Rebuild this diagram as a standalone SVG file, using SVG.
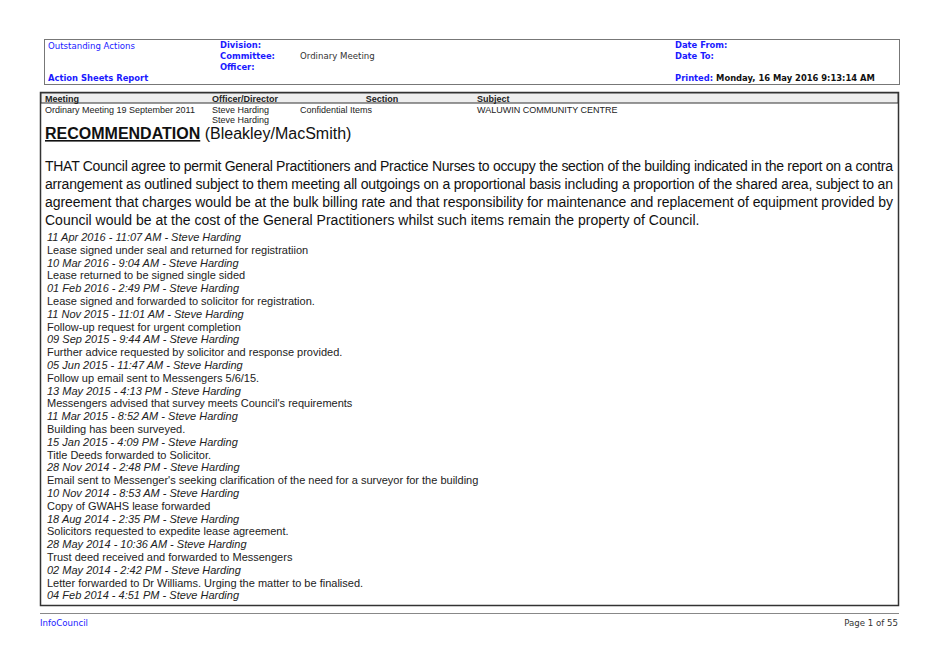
<svg xmlns="http://www.w3.org/2000/svg" width="939" height="664" viewBox="0 0 939 664">
<style>
text{font-family:"Liberation Sans",Arial,sans-serif;fill:#222}
.hb{font-family:"DejaVu Sans",Tahoma,sans-serif;font-weight:bold;font-size:8.4px;fill:#1a1aff}
.hn{font-family:"DejaVu Sans",Tahoma,sans-serif;font-size:8.6px;fill:#1a1aff}
.s{font-size:9px}
.b{font-weight:bold}
.p{font-size:14px;fill:#111}
.l{font-size:11px}
.i{font-style:italic}
</style>
<rect width="939" height="664" fill="#fff"/>
<g id="header">
<rect x="44.5" y="39.5" width="855" height="45" fill="none" stroke="#777" stroke-width="1"/>
<text class="hn" x="48" y="49">Outstanding Actions</text>
<text class="hb" x="48" y="81">Action Sheets Report</text>
<text class="hb" x="220" y="48">Division:</text>
<text class="hb" x="220" y="59">Committee:</text>
<text class="hb" x="220" y="70">Officer:</text>
<text x="300" y="59" style="font-family:'DejaVu Sans',Tahoma,sans-serif;font-size:8.6px;fill:#333">Ordinary Meeting</text>
<text class="hb" x="675" y="48">Date From:</text>
<text class="hb" x="675" y="59">Date To:</text>
<text class="hb" x="675" y="81">Printed: <tspan fill="#111">Monday, 16 May 2016   9:13:14 AM</tspan></text>
</g>
<g id="table">
<rect x="40.5" y="92.5" width="858" height="513" fill="none" stroke="#333" stroke-width="1.5"/>
<rect x="41" y="93" width="857" height="10" fill="#eee" stroke="#333" stroke-width="1"/>
<text class="s b" x="45" y="101.5">Meeting</text>
<text class="s b" x="212" y="101.5">Officer/Director</text>
<text class="s b" x="382" y="101.5" text-anchor="middle">Section</text>
<text class="s b" x="477" y="101.5">Subject</text>
<text class="s" x="45" y="113">Ordinary Meeting 19 September 2011</text>
<text class="s" x="212" y="113">Steve Harding</text>
<text class="s" x="212" y="123">Steve Harding</text>
<text class="s" x="300" y="113">Confidential Items</text>
<text class="s" x="477" y="113">WALUWIN COMMUNITY CENTRE</text>
<text x="45" y="139" style="font-size:16px;fill:#111"><tspan font-weight="bold" text-decoration="underline">RECOMMENDATION</tspan> (Bleakley/MacSmith)</text>
<text class="p" x="45" y="171" textLength="848" lengthAdjust="spacing">THAT Council agree to permit General Practitioners and Practice Nurses to occupy the section of the building indicated in the report on a contra</text>
<text class="p" x="45" y="189" textLength="848" lengthAdjust="spacing">arrangement as outlined subject to them meeting all outgoings on a proportional basis including a proportion of the shared area, subject to an</text>
<text class="p" x="45" y="207" textLength="848" lengthAdjust="spacing">agreement that charges would be at the bulk billing rate and that responsibility for maintenance and replacement of equipment provided by</text>
<text class="p" x="45" y="225">Council would be at the cost of the General Practitioners whilst such items remain the property of Council.</text>
<text class="l i" x="47" y="241">11 Apr 2016 - 11:07 AM - Steve Harding</text>
<text class="l" x="47" y="253.8">Lease signed under seal and returned for registratiion</text>
<text class="l i" x="47" y="266.6">10 Mar 2016 - 9:04 AM - Steve Harding</text>
<text class="l" x="47" y="279.4">Lease returned to be signed single sided</text>
<text class="l i" x="47" y="292.2">01 Feb 2016 - 2:49 PM - Steve Harding</text>
<text class="l" x="47" y="305">Lease signed and forwarded to solicitor for registration.</text>
<text class="l i" x="47" y="317.8">11 Nov 2015 - 11:01 AM - Steve Harding</text>
<text class="l" x="47" y="330.6">Follow-up request for urgent completion</text>
<text class="l i" x="47" y="343.4">09 Sep 2015 - 9:44 AM - Steve Harding</text>
<text class="l" x="47" y="356.2">Further advice requested by solicitor and response provided.</text>
<text class="l i" x="47" y="369">05 Jun 2015 - 11:47 AM - Steve Harding</text>
<text class="l" x="47" y="381.8">Follow up email sent to Messengers 5/6/15.</text>
<text class="l i" x="47" y="394.6">13 May 2015 - 4:13 PM - Steve Harding</text>
<text class="l" x="47" y="407.4">Messengers advised that survey meets Council's requirements</text>
<text class="l i" x="47" y="420.2">11 Mar 2015 - 8:52 AM - Steve Harding</text>
<text class="l" x="47" y="433">Building has been surveyed.</text>
<text class="l i" x="47" y="445.8">15 Jan 2015 - 4:09 PM - Steve Harding</text>
<text class="l" x="47" y="458.6">Title Deeds forwarded to Solicitor.</text>
<text class="l i" x="47" y="471.4">28 Nov 2014 - 2:48 PM - Steve Harding</text>
<text class="l" x="47" y="484.2">Email sent to Messenger's seeking clarification of the need for a surveyor for the building</text>
<text class="l i" x="47" y="497">10 Nov 2014 - 8:53 AM - Steve Harding</text>
<text class="l" x="47" y="509.8">Copy of GWAHS lease forwarded</text>
<text class="l i" x="47" y="522.6">18 Aug 2014 - 2:35 PM - Steve Harding</text>
<text class="l" x="47" y="535.4">Solicitors requested to expedite lease agreement.</text>
<text class="l i" x="47" y="548.2">28 May 2014 - 10:36 AM - Steve Harding</text>
<text class="l" x="47" y="561">Trust deed received and forwarded  to Messengers</text>
<text class="l i" x="47" y="573.8">02 May 2014 - 2:42 PM - Steve Harding</text>
<text class="l" x="47" y="586.6">Letter forwarded to Dr Williams. Urging the matter to be finalised.</text>
<text class="l i" x="47" y="599.4">04 Feb 2014 - 4:51 PM - Steve Harding</text>
</g>
<g id="footer">
<line x1="40" y1="613.5" x2="899" y2="613.5" stroke="#888"/>
<text class="hn" x="40" y="626">InfoCouncil</text>
<text x="898" y="626" text-anchor="end" style="font-family:'DejaVu Sans',Tahoma,sans-serif;font-size:8.6px;fill:#333">Page 1 of 55</text>
</g>
</svg>
